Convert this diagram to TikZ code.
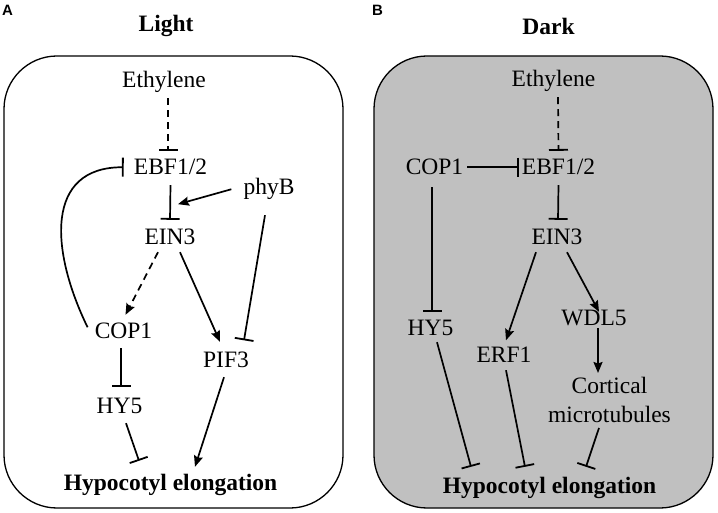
\documentclass[tikz,border=0pt]{standalone}
\usepackage{fontspec}
\setmainfont{Liberation Serif}
\newfontfamily\labfont{Liberation Sans}
\usetikzlibrary{arrows.meta}
\definecolor{boxgray}{HTML}{C0C0C0}
\tikzset{
  lbl/.style={font=\fontsize{23.5}{29}\selectfont, inner xsep=4pt, inner ysep=5pt,
              text height=16.5pt, text depth=5pt, anchor=base},
  bold lbl/.style={lbl, font=\fontsize{23.5}{29}\selectfont\bfseries},
  multi lbl/.style={font=\fontsize{23.5}{29}\selectfont, inner sep=0pt, align=center, anchor=north},
  panel/.style={font=\labfont\bfseries\fontsize{15}{18}\selectfont, inner sep=0pt, anchor=base west},
  framebox/.style={draw, line width=1.3pt, rounded corners=53pt},
  conn/.style={line width=1.7pt},
  act/.style={conn, -{Stealth[length=11pt,width=9pt,inset=1.5pt]}},
  inh/.style={conn, -{Bar[width=19pt,line width=1.8pt]}},
  dashline/.style={dash pattern=on 7pt off 5pt},
}
\begin{document}
\begin{tikzpicture}[x=1pt,y=-1pt]
\useasboundingbox (0,0) rectangle (718,513);
% frames
\draw[framebox, fill=white] (4,56) rectangle (343,508);
\draw[framebox, fill=boxgray] (374,56) rectangle (713,508);
% panel labels and titles
\node[panel] (labA) at (2,16) {A};
\node[panel] (labB) at (372,16) {B};
\node[bold lbl] (titA) at (166,32) {Light};
\node[bold lbl] (titB) at (548.5,35) {Dark};

% ---------- Panel A ----------
\node[lbl] (ethA) at (164,88) {Ethylene};
\node[lbl] (ebfA) at (170.5,175) {EBF1/2};
\node[lbl] (phyA) at (269,195) {phyB};
\node[lbl] (einA) at (170,245) {EIN3};
\node[lbl] (copA) at (123.5,338) {COP1};
\node[lbl] (pifA) at (226,367) {PIF3};
\node[lbl] (hyA) at (119.5,413) {HY5};
\node[bold lbl] (hypA) at (170.5,490) {Hypocotyl elongation};

\draw[inh, dashline] ([xshift=4pt]ethA.south) -- ([xshift=-2.5pt,yshift=2.5pt]ebfA.north);
\draw[inh] (ebfA.south) -- ([yshift=3.5pt]einA.north);
\draw[act] ([xshift=-8pt]phyA.west) -- ([xshift=7.5pt,yshift=-19pt]ebfA.south);
\draw[inh] ([xshift=-4pt,yshift=-10pt]phyA.south) -- ([xshift=18pt,yshift=5pt]pifA.north);
\draw[act, dashline] ([xshift=-12pt,yshift=3pt]einA.south) -- ([xshift=2pt,yshift=1.5pt]copA.north);
\draw[act] ([xshift=10pt,yshift=3pt]einA.south) -- ([xshift=-6pt,yshift=3.5pt]pifA.north);
\draw[inh] ([xshift=-3pt,yshift=5pt]copA.west) .. controls (50,250) and (45,167) .. ([xshift=-6pt,yshift=2pt]ebfA.west);
\draw[inh] ([xshift=-2.5pt]copA.south) -- ([xshift=1.5pt,yshift=4.5pt]hyA.north);
\draw[inh] ([xshift=6.5pt]hyA.south) -- ([xshift=-31.5pt,yshift=7.5pt]hypA.north);
\draw[act] ([xshift=-2pt]pifA.south) -- ([xshift=24.5pt,yshift=1.5pt]hypA.north);

% ---------- Panel B ----------
\node[lbl] (ethB) at (553.5,87) {Ethylene};
\node[lbl] (copB) at (434.5,175) {COP1};
\node[lbl] (ebfB) at (558.5,175) {EBF1/2};
\node[lbl] (einB) at (557,245) {EIN3};
\node[lbl] (hyB) at (430.5,335) {HY5};
\node[lbl] (wdlB) at (594,326) {WDL5};
\node[lbl] (erfB) at (504,362) {ERF1};
\node[multi lbl] (corB) at (609.5,377) {Cortical\\microtubules};
\node[bold lbl] (hypB) at (549.5,493) {Hypocotyl elongation};

\draw[inh, dashline] ([xshift=4.5pt]ethB.south) -- ([yshift=2.5pt]ebfB.north);
\draw[inh] ([yshift=2pt]copB.east) -- ([xshift=1pt,yshift=2pt]ebfB.west);
\draw[inh] (ebfB.south) -- ([xshift=1pt,yshift=3.5pt]einB.north);
\draw[inh] ([xshift=-2.5pt,yshift=-2pt]copB.south) -- ([xshift=1.5pt,yshift=1.5pt]hyB.north);
\draw[act] ([xshift=-21pt,yshift=3pt]einB.south) -- ([xshift=2pt]erfB.north);
\draw[act] ([xshift=10pt,yshift=3pt]einB.south) -- ([xshift=5pt,yshift=-7.5pt]wdlB.north);
\draw[act] ([xshift=4pt,yshift=8pt]wdlB.south) -- ([xshift=-11.5pt,yshift=4pt]corB.north);
\draw[inh] ([xshift=6.5pt,yshift=3pt]hyB.south) -- ([xshift=-78.5pt,yshift=4.5pt]hypB.north);
\draw[inh] ([xshift=2pt,yshift=2pt]erfB.south) -- ([xshift=-24.5pt,yshift=4.5pt]hypB.north);
\draw[inh] ([xshift=-10.5pt,yshift=-5pt]corB.south) -- ([xshift=36.5pt,yshift=4.5pt]hypB.north);
\end{tikzpicture}
\end{document}
